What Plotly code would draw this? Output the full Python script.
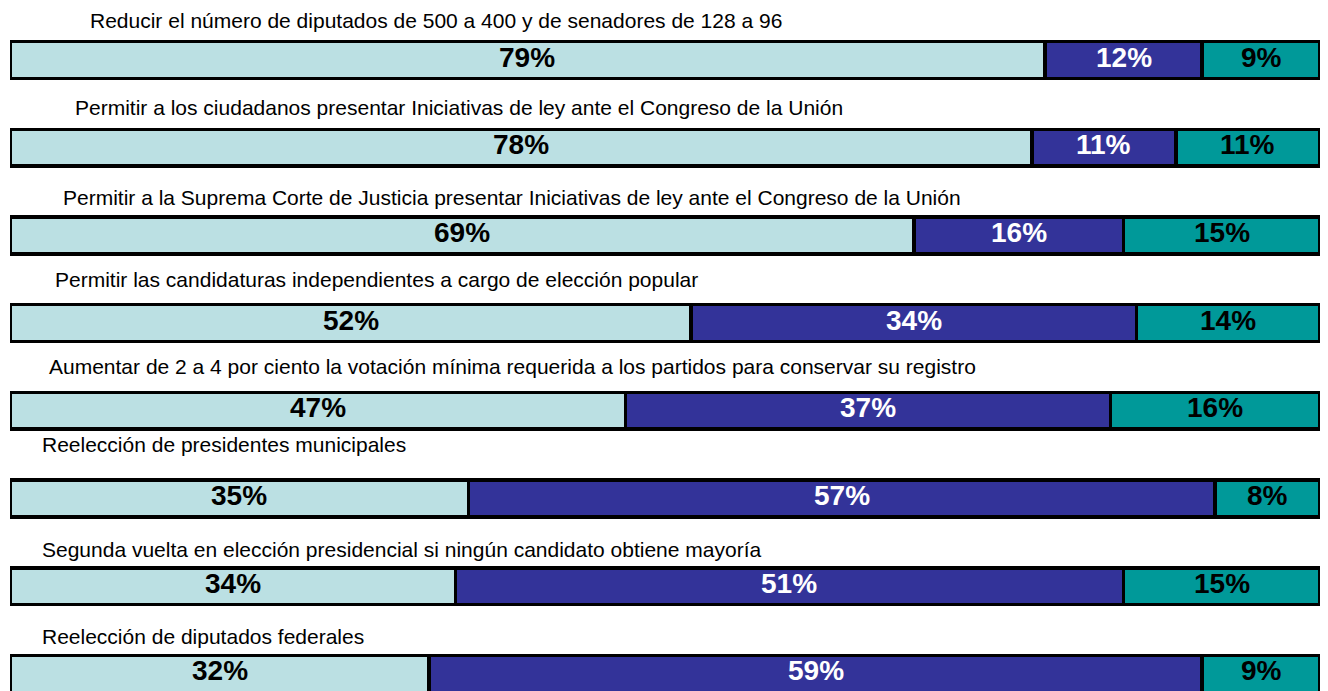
import plotly.graph_objects as go

# statements asked in the survey, top to bottom
statements = [
    "Reducir el número de diputados de 500 a 400 y de senadores de 128 a 96",
    "Permitir a los ciudadanos presentar Iniciativas de ley ante el Congreso de la Unión",
    "Permitir a la Suprema Corte de Justicia presentar Iniciativas de ley ante el Congreso de la Unión",
    "Permitir las candidaturas independientes a cargo de elección popular",
    "Aumentar de 2 a 4 por ciento la votación mínima requerida a los partidos para conservar su registro",
    "Reelección de presidentes municipales",
    "Segunda vuelta en elección presidencial si ningún candidato obtiene mayoría",
    "Reelección de diputados federales",
]
seg_1 = [79, 78, 69, 52, 47, 35, 34, 32]
seg_2 = [12, 11, 16, 34, 37, 57, 51, 59]
seg_3 = [9, 11, 15, 14, 16, 8, 15, 9]

# label placement tweaks (pixels): left edge and height above each bar's centre
title_x = [88, 73, 61, 53, 47, 40, 40, 40]
title_dy = [40, 40, 38, 44, 44, 54, 37, 37]

rows = list(range(len(statements)))
series = [
    (seg_1, "#BBE0E3", "black"),
    (seg_2, "#333399", "white"),
    (seg_3, "#009999", "black"),
]

fig = go.Figure()
annotations = []
base = [0] * len(rows)
for vals, color, txt_color in series:
    fig.add_trace(go.Bar(
        x=vals, y=rows, orientation="h", width=0.42,
        marker=dict(color=color, line=dict(color="black", width=3.5)),
        hoverinfo="skip", showlegend=False,
    ))
    for i, v in enumerate(vals):
        annotations.append(dict(
            x=base[i] + v / 2, y=i, xref="x", yref="y",
            text=f"<b>{v}%</b>", showarrow=False, yshift=3,
            font=dict(family="Liberation Sans Narrow, Arial Narrow, Liberation Sans, Arial",
                      size=28, color=txt_color),
        ))
        base[i] += v

for i, s in enumerate(statements):
    annotations.append(dict(
        x=0, y=i, xref="paper", yref="y", xanchor="left", yanchor="middle",
        xshift=title_x[i] - 10, yshift=title_dy[i],
        text=s, showarrow=False,
        font=dict(family="Liberation Sans, Arial", size=21, color="black"),
    ))

# page body has an 8px margin, so the figure is sized to the rest of the window
fig.update_layout(
    barmode="stack",
    width=1312, height=683,
    margin=dict(l=2, r=0, t=0, b=0),
    paper_bgcolor="white", plot_bgcolor="white",
    xaxis=dict(range=[0, 100], visible=False, fixedrange=True),
    yaxis=dict(range=[7.195, -0.593], visible=False, fixedrange=True),
    annotations=annotations,
)

fig.write_html("out.html")
